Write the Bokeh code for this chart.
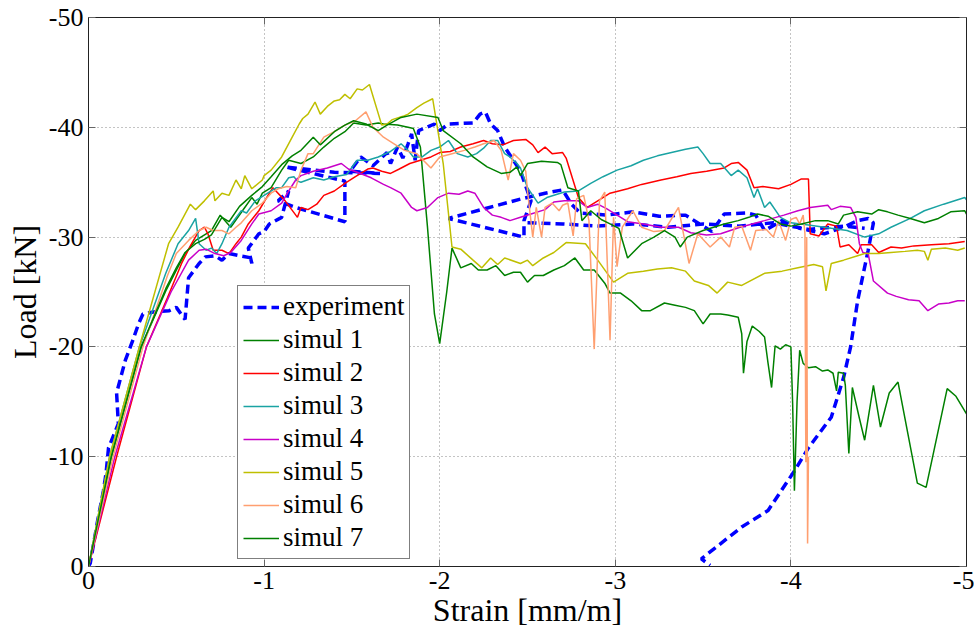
import math
from bokeh.plotting import figure
from bokeh.models import Range1d, LinearAxis, FixedTicker
from bokeh.embed import file_html
from bokeh.resources import INLINE

# ---------------- data (strain [mm/m], load [kN]) ----------------
x_ticks = [0, -1, -2, -3, -4, -5]
y_ticks = [0, -10, -20, -30, -40, -50]
x_tick_labels = ["0", "-1", "-2", "-3", "-4", "-5"]
y_tick_labels = ["0", "-10", "-20", "-30", "-40", "-50"]

experiment = [(0,0),(-0.01,-0.3),(-0.05,-4),(-0.085,-6.9),(-0.1,-8.5),(-0.114,-10.8),(-0.17,-13),(-0.16,-15.8),
    (-0.21,-18.8),(-0.25,-20.5),(-0.285,-22.1),(-0.31,-23),(-0.38,-23.2),(-0.46,-23.3),(-0.5,-23.6),(-0.54,-22.7),
    (-0.55,-22.5),(-0.57,-26.3),(-0.63,-27.6),(-0.665,-28.2),(-0.72,-28.3),(-0.76,-27.9),(-0.8,-28.5),(-0.86,-28.3),
    (-0.93,-28.1),(-0.93,-27.6),(-0.91,-29),(-0.97,-30.3),(-1.0,-30.5),(-1.03,-31.2),(-1.1,-31.8),(-1.14,-34.2),
    (-1.08,-33.3),(-1.18,-32.7),(-1.46,-31.4),(-1.46,-35.1),(-1.12,-36.4),(-1.4,-35.9),(-1.66,-35.8),(-1.49,-36.0),
    (-1.55,-37.3),(-1.62,-36.5),(-1.7,-37.7),(-1.72,-36.7),(-1.76,-38.2),(-1.79,-37.2),(-1.82,-38.5),(-1.84,-39.4),
    (-1.86,-37.0),(-1.88,-39.7),(-1.97,-40.3),(-2.0,-39.7),(-2.05,-40.3),(-2.19,-40.4),(-2.23,-41.2),(-2.26,-41.4),
    (-2.29,-40.3),(-2.33,-39.7),(-2.37,-38.2),(-2.42,-37.0),(-2.46,-36.0),(-2.52,-33.3),(-2.48,-31.5),(-2.48,-30.0),
    (-2.05,-31.7),(-2.47,-33.5),(-2.6,-34.0),(-2.7,-34.3),(-2.75,-33.0),(-2.8,-32.2),(-2.95,-32.0),(-3.1,-32.3),
    (-3.25,-31.9),(-3.4,-32.0),(-3.55,-30.5),(-3.62,-32.1),(-3.75,-32.2),(-3.8,-32.0),(-3.85,-30.6),(-3.95,-31.5),
    (-4.05,-30.8),(-4.19,-30.3),(-4.3,-30.9),(-4.38,-31.5),(-4.44,-31.7),(-4.47,-31.3),(-4.44,-28.8),(-4.38,-24.2),
    (-4.34,-20),(-4.3,-17.2),(-4.23,-13.6),(-4.1,-10.8),(-4.02,-8.7),(-3.87,-5.1),(-3.72,-3.6),(-3.49,-0.7),(-3.54,-0.1)]
experiment_b = [(-2.5,-31.3),(-2.7,-31.2),(-2.9,-31.0),(-3.1,-31.2),(-3.3,-30.9),(-3.5,-31.2),(-3.7,-31.0),
    (-3.9,-31.3),(-4.1,-30.7),(-4.3,-31.0),(-4.42,-30.8)]

simul_1 = [(0,0),(-0.13,-10),(-0.3,-20),(-0.44,-25.1),(-0.5,-27),(-0.55,-28.5),(-0.61,-29.7),(-0.7,-30.6),(-0.75,-32.0),
    (-0.81,-30.9),(-0.89,-32.7),(-0.93,-33.6),(-0.96,-33.0),(-0.99,-34.0),(-1.04,-34.5),(-1.1,-36.1),(-1.14,-37.0),
    (-1.21,-36.7),(-1.28,-37.3),(-1.34,-38.2),(-1.4,-39.0),(-1.46,-39.6),(-1.51,-40.4),(-1.58,-40.2),(-1.65,-40.4),
    (-1.68,-40.3),(-1.76,-40.2),(-1.82,-40.0),(-1.85,-39.9),(-1.89,-38.2),(-1.93,-31),(-1.97,-23),(-2.0,-20.3),
    (-2.04,-25),(-2.07,-29.0),(-2.12,-27.2),(-2.18,-27.6),(-2.22,-27.0),(-2.27,-27.0),(-2.32,-27.4),(-2.37,-26.5),
    (-2.42,-26.8),(-2.46,-26.8),(-2.5,-25.9),(-2.54,-26.5),(-2.59,-26.5),(-2.65,-27.0),(-2.71,-27.4),(-2.77,-28.1),
    (-2.82,-27.0),(-2.88,-27.0),(-2.94,-25.8),(-2.97,-24.9),(-3.03,-24.9),(-3.09,-24.2),(-3.15,-23.3),(-3.2,-23.3),
    (-3.28,-24.0),(-3.34,-23.8),(-3.4,-23.6),(-3.45,-23.3),(-3.5,-22.1),(-3.54,-23.0),(-3.6,-23.0),(-3.64,-22.9),
    (-3.7,-22.7),(-3.72,-21.2),(-3.73,-17.6),(-3.75,-20.5),(-3.78,-21.9),(-3.82,-21.4),(-3.85,-20.9),(-3.87,-18.5),
    (-3.89,-16.3),(-3.91,-20.1),(-3.94,-19.8),(-3.97,-20.2),(-4.0,-20.0),(-4.01,-14.8),(-4.02,-6.9),(-4.035,-15),
    (-4.05,-19.7),(-4.07,-18.5),(-4.1,-18.1),(-4.14,-18.2),(-4.18,-17.8),(-4.21,-17.9),(-4.24,-17.6),(-4.26,-16.0),
    (-4.27,-17.7),(-4.3,-17.6),(-4.31,-16.5),(-4.33,-10.3),(-4.35,-16.3),(-4.39,-13.5),(-4.42,-11.5),(-4.47,-16.5),
    (-4.51,-12.7),(-4.56,-15.8),(-4.61,-16.8),(-4.72,-7.6),(-4.77,-7.2),(-4.89,-16.2),(-4.94,-15.5),(-5.0,-13.9)]

simul_2 = [(0,0),(-0.16,-10),(-0.33,-20),(-0.45,-24.5),(-0.53,-27.6),(-0.58,-29.2),(-0.63,-30.6),(-0.66,-30.9),
    (-0.68,-30.3),(-0.71,-28.8),(-0.76,-28.8),(-0.8,-28.5),(-0.84,-29.4),(-0.87,-30.0),(-0.91,-31.2),(-0.97,-32.4),
    (-1.03,-34.0),(-1.05,-34.5),(-1.12,-33.3),(-1.19,-31.8),(-1.21,-32.7),(-1.25,-32.5),(-1.3,-33.0),(-1.34,-33.8),
    (-1.4,-34.2),(-1.46,-34.9),(-1.52,-35.5),(-1.59,-36.2),(-1.62,-36.3),(-1.67,-36.0),(-1.72,-35.8),(-1.77,-36.2),
    (-1.83,-36.7),(-1.89,-37.0),(-1.95,-37.3),(-2.0,-37.7),(-2.06,-37.8),(-2.12,-38.2),(-2.19,-38.5),(-2.25,-38.8),
    (-2.3,-38.5),(-2.36,-38.4),(-2.42,-38.8),(-2.49,-38.9),(-2.53,-38.4),(-2.56,-37.7),(-2.6,-38.2),(-2.64,-37.6),
    (-2.7,-37.7),(-2.72,-37.2),(-2.79,-33.6),(-2.84,-32.7),(-2.9,-33.3),(-2.97,-34.0),(-3.07,-34.4),(-3.15,-34.8),
    (-3.26,-35.2),(-3.35,-35.5),(-3.43,-35.8),(-3.52,-36.0),(-3.62,-36.3),(-3.66,-36.7),(-3.7,-36.8),(-3.75,-36.1),
    (-3.79,-34.5),(-3.84,-34.6),(-3.93,-34.4),(-4.0,-34.8),(-4.06,-35.3),(-4.1,-35.3),(-4.11,-30.3),(-4.16,-30.1),
    (-4.21,-31.2),(-4.26,-31.0),(-4.28,-29.1),(-4.33,-29.3),(-4.38,-28.5),(-4.4,-29.3),(-4.46,-29.3),(-4.5,-28.6),
    (-4.57,-29.1),(-4.63,-29.0),(-4.7,-29.2),(-4.8,-29.3),(-4.9,-29.4),(-4.99,-29.6)]

simul_3 = [(0,0),(-0.12,-10),(-0.29,-20),(-0.44,-26.7),(-0.51,-29.4),(-0.57,-30.6),(-0.61,-31.7),(-0.63,-29.4),
    (-0.67,-28.8),(-0.7,-29.0),(-0.73,-28.5),(-0.76,-29.4),(-0.8,-30.9),(-0.87,-32.4),(-0.9,-32.2),(-0.95,-33.3),
    (-1.0,-33.8),(-1.07,-34.5),(-1.1,-34.5),(-1.14,-35.4),(-1.17,-35.5),(-1.19,-35.1),(-1.21,-35.0),(-1.28,-35.4),
    (-1.34,-35.2),(-1.4,-35.5),(-1.47,-35.7),(-1.53,-37.0),(-1.59,-37.0),(-1.65,-37.3),(-1.72,-37.8),(-1.78,-38.5),
    (-1.82,-37.9),(-1.85,-37.3),(-1.9,-37.3),(-1.95,-37.9),(-2.0,-38.2),(-2.05,-38.8),(-2.1,-37.6),(-2.16,-37.3),
    (-2.21,-37.6),(-2.25,-38.1),(-2.29,-38.8),(-2.33,-38.8),(-2.37,-37.6),(-2.4,-37.3),(-2.44,-36.7),(-2.46,-36.3),
    (-2.5,-34.5),(-2.56,-33.1),(-2.61,-33.6),(-2.71,-34.1),(-2.79,-34.2),(-2.86,-34.9),(-2.93,-35.5),(-3.01,-36.1),
    (-3.09,-36.5),(-3.16,-37.0),(-3.24,-37.4),(-3.32,-37.7),(-3.4,-38.0),(-3.47,-38.2),(-3.5,-37.6),(-3.54,-36.7),
    (-3.6,-36.7),(-3.66,-35.6),(-3.7,-36.1),(-3.75,-35.4),(-3.79,-33.6),(-3.81,-34.4),(-3.85,-32.7),(-3.88,-33.2),
    (-3.94,-31.8),(-4.0,-31.3),(-4.1,-31.1),(-4.23,-30.8),(-4.32,-30.6),(-4.42,-30.0),(-4.5,-30.3),(-4.57,-30.9),
    (-4.68,-31.7),(-4.76,-32.4),(-4.87,-33.0),(-4.99,-33.6),(-5.0,-33.4)]

simul_4 = [(0,0),(-0.15,-10),(-0.33,-20),(-0.47,-25),(-0.57,-27.9),(-0.63,-28.8),(-0.67,-28.9),(-0.72,-28.5),
    (-0.77,-28.3),(-0.81,-28.6),(-0.87,-29.7),(-0.93,-31.2),(-0.97,-32.1),(-1.04,-32.4),(-1.1,-33.1),(-1.14,-34.2),
    (-1.18,-35.2),(-1.21,-35.6),(-1.28,-36.0),(-1.36,-36.3),(-1.44,-36.7),(-1.48,-36.2),(-1.53,-35.9),(-1.61,-35.4),
    (-1.68,-34.8),(-1.72,-34.5),(-1.78,-34.0),(-1.84,-32.7),(-1.87,-32.4),(-1.93,-32.7),(-1.99,-33.6),(-2.05,-34.0),
    (-2.11,-33.9),(-2.16,-34.2),(-2.2,-34.0),(-2.25,-32.7),(-2.3,-32.0),(-2.35,-31.8),(-2.4,-31.5),(-2.46,-31.8),
    (-2.52,-32.1),(-2.6,-32.5),(-2.65,-33.2),(-2.71,-33.3),(-2.79,-33.3),(-2.84,-32.7),(-2.9,-33.0),(-2.95,-32.6),
    (-3.01,-32.0),(-3.07,-31.4),(-3.16,-31.2),(-3.26,-30.9),(-3.36,-30.9),(-3.43,-30.4),(-3.52,-30.2),(-3.6,-30.3),
    (-3.71,-30.9),(-3.78,-31.2),(-3.85,-31.5),(-3.96,-32.0),(-4.04,-32.4),(-4.11,-32.7),(-4.21,-32.9),(-4.23,-32.5),
    (-4.28,-32.8),(-4.34,-32.7),(-4.37,-31.8),(-4.39,-29.4),(-4.41,-28.6),(-4.44,-28.5),(-4.47,-26.0),(-4.55,-24.9),
    (-4.6,-24.6),(-4.67,-24.3),(-4.73,-24.2),(-4.78,-23.3),(-4.84,-23.9),(-4.9,-24.0),(-4.95,-24.2),(-4.99,-24.2)]

simul_5 = [(0,0),(-0.12,-10),(-0.3,-20.6),(-0.456,-29.4),(-0.51,-30.9),(-0.58,-33.0),(-0.61,-32.5),(-0.66,-33.3),
    (-0.71,-34.2),(-0.72,-33.3),(-0.76,-34.0),(-0.8,-33.8),(-0.84,-35.2),(-0.87,-34.4),(-0.89,-35.6),(-0.93,-34.4),
    (-0.99,-35.2),(-1.0,-35.6),(-1.04,-36.1),(-1.1,-37.3),(-1.16,-39.1),(-1.2,-40.3),(-1.22,-40.8),(-1.25,-41.2),
    (-1.29,-42.3),(-1.32,-41.2),(-1.36,-41.9),(-1.4,-42.4),(-1.43,-42.5),(-1.46,-43.0),(-1.49,-42.6),(-1.53,-43.5),
    (-1.56,-43.4),(-1.6,-43.9),(-1.67,-40.2),(-1.7,-40.3),(-1.73,-40.7),(-1.79,-41.0),(-1.82,-41.2),(-1.87,-41.8),
    (-1.91,-42.2),(-1.96,-42.6),(-2.02,-36.7),(-2.07,-29.1),(-2.12,-28.9),(-2.19,-27.9),(-2.24,-27.2),(-2.29,-28.1),
    (-2.33,-27.5),(-2.37,-28.1),(-2.46,-27.6),(-2.5,-27.9),(-2.53,-27.4),(-2.59,-28.1),(-2.65,-28.6),(-2.72,-29.5),
    (-2.83,-29.4),(-2.9,-27.9),(-2.99,-25.9),(-3.07,-26.7),(-3.16,-26.9),(-3.24,-27.1),(-3.32,-27.2),(-3.4,-26.9),
    (-3.45,-26.0),(-3.53,-25.6),(-3.58,-24.9),(-3.64,-25.9),(-3.72,-25.6),(-3.85,-26.7),(-3.95,-26.9),(-4.04,-27.2),
    (-4.13,-27.5),(-4.18,-27.3),(-4.2,-25.1),(-4.23,-27.6),(-4.3,-27.9),(-4.38,-28.3),(-4.42,-28.5),(-4.5,-28.5),
    (-4.57,-28.6),(-4.65,-28.7),(-4.72,-28.8),(-4.76,-28.7),(-4.78,-27.9),(-4.8,-28.9),(-4.88,-29.0),(-4.95,-28.8),
    (-4.99,-29.0)]

simul_6 = [(0,0),(-0.14,-10),(-0.31,-20),(-0.45,-26.5),(-0.5,-28.5),(-0.57,-29.7),(-0.63,-30.6),(-0.67,-30.9),
    (-0.71,-30.6),(-0.76,-30.6),(-0.8,-30.3),(-0.84,-30.9),(-0.87,-31.3),(-0.93,-32.4),(-0.99,-33.1),(-1.04,-34.0),
    (-1.08,-34.4),(-1.13,-34.6),(-1.18,-34.5),(-1.21,-36.1),(-1.25,-37.6),(-1.28,-37.6),(-1.34,-39.1),(-1.4,-39.6),
    (-1.46,-40.2),(-1.52,-40.6),(-1.58,-41.4),(-1.62,-40.0),(-1.68,-39.1),(-1.74,-38.5),(-1.8,-37.9),(-1.87,-37.6),
    (-1.95,-36.3),(-2.0,-37.3),(-2.07,-37.6),(-2.14,-37.9),(-2.2,-38.2),(-2.25,-38.5),(-2.31,-38.8),(-2.35,-37.9),
    (-2.39,-35.2),(-2.42,-37.6),(-2.46,-37.0),(-2.49,-36.0),(-2.5,-34.2),(-2.53,-30.0),(-2.55,-32.7),(-2.58,-30.0),
    (-2.6,-32.7),(-2.64,-33.1),(-2.68,-32.4),(-2.7,-32.9),(-2.73,-33.1),(-2.76,-30.1),(-2.78,-33.5),(-2.82,-33.8),
    (-2.85,-31.5),(-2.88,-19.8),(-2.91,-33.3),(-2.94,-34.1),(-2.97,-20.6),(-2.99,-31.8),(-3.01,-27.3),(-3.04,-30.9),
    (-3.1,-32.4),(-3.15,-30.9),(-3.22,-30.5),(-3.28,-30.6),(-3.36,-32.7),(-3.42,-27.6),(-3.47,-30.3),(-3.54,-29.1),
    (-3.6,-30.0),(-3.65,-29.1),(-3.68,-30.9),(-3.72,-31.0),(-3.77,-28.8),(-3.8,-30.6),(-3.86,-30.7),(-3.9,-30.0),
    (-3.93,-31.5),(-3.97,-29.7),(-4.0,-31.6),(-4.03,-31.8),(-4.05,-31.2),(-4.07,-32.0),(-4.08,-30.3),(-4.085,-9.5),
    (-4.09,-30.0),(-4.095,-2.1),(-4.1,-10.0)]

simul_7 = [(0,0),(-0.13,-10),(-0.3,-20),(-0.44,-25.3),(-0.5,-27.2),(-0.55,-28.6),(-0.61,-29.4),(-0.66,-29.8),
    (-0.7,-30.2),(-0.76,-31.8),(-0.8,-31.4),(-0.86,-32.8),(-0.93,-33.8),(-0.99,-34.6),(-1.04,-35.5),(-1.1,-36.6),
    (-1.16,-37.4),(-1.21,-37.9),(-1.28,-39.1),(-1.32,-38.4),(-1.4,-39.6),(-1.46,-40.2),(-1.51,-40.6),(-1.58,-40.3),
    (-1.65,-39.7),(-1.7,-40.2),(-1.78,-40.9),(-1.87,-41.2),(-1.99,-40.9),(-2.02,-39.7),(-2.12,-38.5),(-2.19,-37.3),
    (-2.27,-36.4),(-2.35,-35.8),(-2.4,-35.9),(-2.44,-36.4),(-2.46,-35.6),(-2.5,-36.7),(-2.58,-36.9),(-2.67,-36.8),
    (-2.69,-36.6),(-2.73,-34.5),(-2.79,-34.2),(-2.81,-31.5),(-2.86,-32.4),(-2.92,-31.6),(-2.97,-31.2),(-3.02,-30.8),
    (-3.07,-28.1),(-3.15,-29.4),(-3.22,-30.0),(-3.28,-30.6),(-3.34,-30.0),(-3.37,-29.1),(-3.41,-30.0),(-3.5,-30.6),
    (-3.56,-30.9),(-3.62,-31.2),(-3.7,-31.5),(-3.76,-31.8),(-3.81,-32.1),(-3.87,-31.9),(-3.94,-31.2),(-4.0,-31.0),
    (-4.06,-31.2),(-4.14,-31.5),(-4.21,-31.5),(-4.27,-31.2),(-4.3,-32.0),(-4.38,-32.3),(-4.46,-32.1),(-4.5,-32.5),
    (-4.55,-32.3),(-4.61,-32.0),(-4.68,-31.7),(-4.76,-31.3),(-4.84,-31.7),(-4.91,-32.3),(-4.99,-32.4),(-5.0,-32.1)]

series_names = ["simul 1", "simul 2", "simul 3", "simul 4", "simul 5", "simul 6", "simul 7"]
series_colors = ["#008000", "#FF0000", "#1AA3A3", "#C800C8", "#BFBF00", "#FF9F70", "#008000"]
series_data = [simul_1, simul_2, simul_3, simul_4, simul_5, simul_6, simul_7]

# ---------------- figure ----------------
FONT = "Liberation Serif"
p = figure(frame_width=878, frame_height=549,
           x_range=Range1d(0, -5), y_range=Range1d(0, -50),
           output_backend="svg", toolbar_location=None,
           min_border_left=88, min_border_top=17, min_border_right=8, min_border_bottom=64,
           background_fill_color="white", border_fill_color="white")
p.outline_line_color = "#222222"
p.outline_line_width = 1

for ax, ticks, labels in ((p.xaxis[0], x_ticks, x_tick_labels), (p.yaxis[0], y_ticks, y_tick_labels)):
    ax.ticker = FixedTicker(ticks=ticks)
    ax.major_label_overrides = {t: s for t, s in zip(ticks, labels)}
    ax.major_tick_in = 7
    ax.major_tick_out = 0
    ax.minor_tick_line_color = None
    ax.major_tick_line_color = "#666666"
    ax.axis_line_color = "#222222"
    ax.major_label_text_font = FONT
    ax.major_label_text_font_size = "26px"
    ax.major_label_text_color = "black"
    ax.axis_label_text_font = FONT
    ax.axis_label_text_font_style = "normal"
    ax.axis_label_text_font_size = "32px"
    ax.axis_label_text_color = "black"
    ax.major_label_standoff = 5

p.xaxis.axis_label = "Strain [mm/m]"
p.yaxis.axis_label = "Load [kN]"
p.xaxis.axis_label_standoff = 0
p.yaxis.axis_label_standoff = 3

for loc, ticks in (("right", y_ticks), ("above", x_ticks)):
    a = LinearAxis(ticker=FixedTicker(ticks=ticks), major_tick_in=7, major_tick_out=0,
                   minor_tick_line_color=None, major_tick_line_color="#666666",
                   axis_line_color="#222222", major_label_standoff=0,
                   major_label_overrides={t: "" for t in ticks})
    p.add_layout(a, loc)

p.xgrid.ticker = FixedTicker(ticks=x_ticks)
p.ygrid.ticker = FixedTicker(ticks=y_ticks)
for g in (p.xgrid[0], p.ygrid[0]):
    g.grid_line_color = "#888888"
    g.grid_line_dash = "1 3"
    g.grid_line_width = 1

# experiment (two pieces separated by a gap)
ex = [pt[0] for pt in experiment] + [math.nan] + [pt[0] for pt in experiment_b]
ey = [pt[1] for pt in experiment] + [math.nan] + [pt[1] for pt in experiment_b]
p.line(ex, ey, line_color="#0000FF", line_width=3.5, line_dash="9 5", legend_label="experiment")

for name, col, data in zip(series_names, series_colors, series_data):
    xs = [pt[0] for pt in data]
    ys = [pt[1] for pt in data]
    p.line(xs, ys, line_color=col, line_width=1.5, legend_label=name)

lg = p.legend[0]
lg.location = (149, 7)
lg.label_text_font = FONT
lg.label_text_font_size = "27px"
lg.label_text_color = "black"
lg.glyph_width = 36
lg.glyph_height = 30
lg.label_height = 30
lg.label_standoff = 4
lg.spacing = 2
lg.padding = 5
lg.margin = 0
lg.border_line_color = "black"
lg.border_line_width = 1
lg.background_fill_color = "white"
lg.background_fill_alpha = 1.0

open("out.html", "w").write(file_html(p, INLINE))
